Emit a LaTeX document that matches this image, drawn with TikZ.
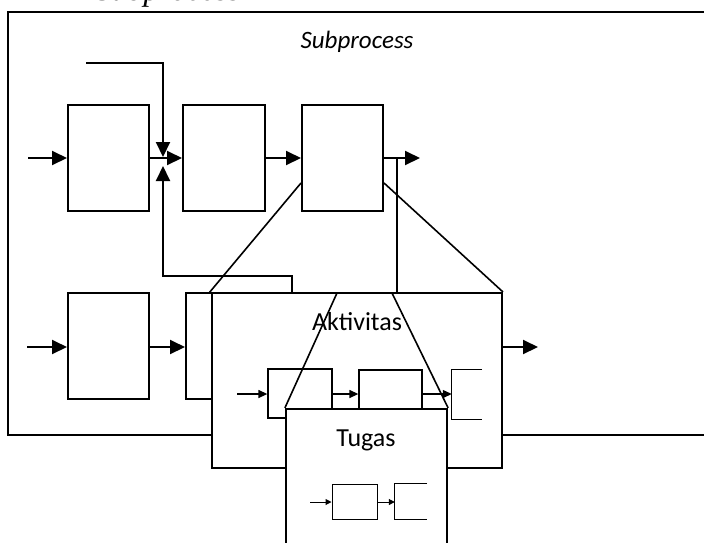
\documentclass[tikz,border=0pt]{standalone}
\usepackage{fontspec}
\setmainfont{Carlito}
\newfontfamily\timesfam{Liberation Serif}
\usetikzlibrary{arrows.meta}
\begin{document}
\begin{tikzpicture}[x=1pt,y=-1pt,
  bigbox/.style={draw, line width=2pt, rectangle, inner sep=0pt},
  midbox/.style={draw, line width=1.3pt, rectangle, inner sep=0pt},
  tinybox/.style={draw, line width=1pt, rectangle, inner sep=0pt},
  zoombox/.style={draw, line width=2.2pt, fill=white, rectangle, inner sep=0pt},
  bigarrow/.style={line width=2pt, -{Triangle[length=15pt,width=14pt]}},
  midarrow/.style={line width=1.3pt, -{Triangle[length=9pt,width=8pt]}},
  tinyarrow/.style={line width=1pt, -{Triangle[length=6pt,width=6pt]}},
  thinline/.style={line width=1.6pt},
  label/.style={font=\fontsize{26}{30}\selectfont, anchor=base, inner sep=0pt}
]
\useasboundingbox (0,0) rectangle (704,542);

% clipped caption fragment at top
\node[font=\timesfam\itshape\fontsize{32}{34}\selectfont, anchor=base, inner sep=0pt] (captop) at (168,0.5) {Subprocess};

% outer Subprocess frame
\draw[line width=2pt] (720,12) -- (8,12) -- (8,435) -- (720,435);
\node[label, font=\itshape\fontsize{25}{30}\selectfont] (subtitle) at (357,48) {Subprocess};

% top row
\node[bigbox, minimum width=81pt, minimum height=106pt] (b1) at (108.5,158) {};
\node[bigbox, minimum width=82pt, minimum height=106pt] (b2) at (224,158) {};
\node[bigbox, minimum width=81pt, minimum height=106pt] (b3) at (342.5,158) {};
\coordinate (in1) at (28,158);
\coordinate (topin) at (86,63);
\coordinate (out3) at (420,158);
\coordinate (jdown) at (163,157);
\coordinate (jup) at (163,166);

\draw[bigarrow] (in1) -- (b1.west);
\draw[bigarrow] (b1.east) -- (b2.west);
\draw[bigarrow] (b2.east) -- (b3.west);
\draw[bigarrow] (b3.east) -- (out3);
\draw[bigarrow] (topin) -| (jdown);

% bottom row
\node[bigbox, minimum width=81pt, minimum height=106pt] (b4) at (108.5,346) {};
\node[bigbox, minimum width=81pt, minimum height=106pt] (b5) at (226.5,346) {};
\coordinate (in4) at (27,347);
\draw[bigarrow] (in4) -- (b4.west |- in4);
\draw[bigarrow] (b4.east |- in4) -- (b5.west |- in4);

% feedback and vertical connector
\coordinate (fbstart) at (292,293);
\coordinate (vtop) at (397,157);
\coordinate (vbot) at (397,293);
\draw[bigarrow] (fbstart) -- (292,276) -- (163,276) -- (jup);
\draw[line width=2.2pt] (vtop) -- (vbot);

% magnifier lines to Aktivitas
\coordinate (magL) at (209,293);
\draw[thinline] ([yshift=-25pt]b3.west) -- (magL);

% Aktivitas box
\node[zoombox, line width=2pt, minimum width=290pt, minimum height=175pt] (akt) at (357,380.5) {};
\draw[thinline] ([yshift=-25pt]b3.east) -- (akt.north east);
\coordinate (aktout) at (538,347);
\draw[bigarrow] (akt.east |- aktout) -- (aktout);
\node[label] (akttext) at (357,330) {Aktivitas};

\node[midbox, minimum width=64pt, minimum height=49pt] (s1) at (300,393.5) {};
\node[midbox, minimum width=63pt, minimum height=49pt] (s2) at (390.5,394.5) {};
\node[minimum width=30pt, minimum height=49pt, inner sep=0pt] (s3) at (467,394.5) {};
\draw[line width=1.3pt] (s3.north east) -- (s3.north west) -- (s3.south west) -- (s3.south east);
\coordinate (sin) at (237,394);
\draw[midarrow] (sin) -- (s1.west |- sin);
\draw[midarrow] (s1.east |- sin) -- (s2.west |- sin);
\draw[midarrow] (s2.east |- sin) -- (s3.west |- sin);

% magnifier lines to Tugas
\coordinate (mag2L) at (337,293);
\coordinate (mag2R) at (392,293);
\node[zoombox, minimum width=161pt, minimum height=151pt] (tug) at (366.5,484.5) {};
\draw[thinline] (mag2L) -- (tug.north west);
\draw[thinline] (mag2R) -- (tug.north east);
\node[label] (tugtext) at (366,446) {Tugas};

\node[tinybox, minimum width=45pt, minimum height=35pt] (t1) at (354.5,501.5) {};
\node[minimum width=32pt, minimum height=35pt, inner sep=0pt] (t2) at (411,501.5) {};
\draw[line width=1pt] (t2.north east) -- (t2.north west) -- (t2.south west) -- (t2.south east);
\coordinate (tin) at (310,502);
\draw[tinyarrow] (tin) -- (t1.west |- tin);
\draw[tinyarrow] (t1.east |- tin) -- (t2.west |- tin);
\end{tikzpicture}
\end{document}
